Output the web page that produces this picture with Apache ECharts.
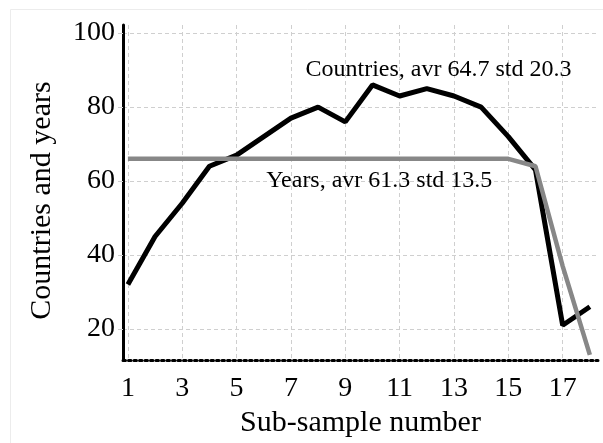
<!DOCTYPE html>
<html>
<head>
<meta charset="utf-8">
<script src="https://cdn.jsdelivr.net/npm/echarts@6/dist/echarts.min.js"></script>
<style>
  html, body { margin: 0; padding: 0; background: #fff; }
  #chart { width: 603px; height: 443px; }
</style>
</head>
<body>
<div id="chart"></div>
<script>
// Sub-sample numbers on the x axis
const subSamples = [1, 2, 3, 4, 5, 6, 7, 8, 9, 10, 11, 12, 13, 14, 15, 16, 17, 18];
// Number of countries in each sub-sample
const countries = [32, 45, 54, 64, 67, 72, 77, 80, 76, 86, 83, 85, 83, 80, 72, 63, 21, 26];
// Number of years in each sub-sample
const years = [66, 66, 66, 66, 66, 66, 66, 66, 66, 66, 66, 66, 66, 66, 66, 64, 37, 13];
// Tick labels
const xTicks = [1, 3, 5, 7, 9, 11, 13, 15, 17];
const yTicks = [20, 40, 60, 80, 100];
// Summary captions
const countriesCaption = 'Countries, avr 64.7 std 20.3';
const yearsCaption = 'Years, avr 61.3 std 13.5';
const countriesCaptionAt = [12.43, 90];
const yearsCaptionAt = [10.25, 60.2];

const serif = '"Liberation Serif", "DejaVu Serif", serif';
const pairs = arr => subSamples.map((x, i) => [x, arr[i]]);

const chart = echarts.init(document.getElementById('chart'), null, { renderer: 'canvas' });

chart.setOption({
  animation: false,
  backgroundColor: '#fff',
  // faint frame around the figure
  graphic: [{
    type: 'rect',
    silent: true,
    shape: { x: 10.5, y: 9.5, width: 620, height: 460 },
    style: { fill: 'none', stroke: '#ececec', lineWidth: 1 }
  }],
  grid: { left: 123, right: 5, top: 25, bottom: 83, containLabel: false },
  xAxis: {
    type: 'value',
    min: 0.82,
    max: 18.3,
    name: 'Sub-sample number',
    nameLocation: 'middle',
    nameGap: 40,
    nameTextStyle: { fontFamily: serif, fontSize: 30, color: '#000' },
    axisLine: { show: true, onZero: false, lineStyle: { color: '#000', width: 3, type: [2.5, 3] } },
    axisTick: { show: false, customValues: xTicks },
    axisLabel: { customValues: xTicks, fontFamily: serif, fontSize: 28, color: '#000', margin: 15 },
    splitLine: { show: true, lineStyle: { color: '#cfcfcf', width: 1, type: [4, 3] } }
  },
  yAxis: {
    type: 'value',
    min: 11.6,
    max: 102.2,
    name: 'Countries and years',
    nameLocation: 'middle',
    nameGap: 66,
    nameTextStyle: { fontFamily: serif, fontSize: 30, color: '#000', padding: [0, 16, 0, 0] },
    axisLine: { show: true, onZero: false, lineStyle: { color: '#000', width: 3 } },
    axisTick: { show: true, customValues: yTicks, length: 5, lineStyle: { color: '#cfcfcf', width: 1 } },
    axisLabel: { customValues: yTicks, fontFamily: serif, fontSize: 28, color: '#000', margin: 8 },
    splitLine: { show: true, lineStyle: { color: '#cfcfcf', width: 1, type: [4, 3] } }
  },
  series: [
    {
      name: 'Years',
      type: 'line',
      data: pairs(years),
      symbol: 'none',
      lineStyle: { color: '#878787', width: 4.5 },
      z: 3,
      markPoint: {
        symbol: 'circle', symbolSize: 0,
        label: { show: true, position: 'inside', formatter: yearsCaption, fontFamily: serif, fontSize: 24, color: '#000' },
        data: [{ coord: yearsCaptionAt }]
      }
    },
    {
      name: 'Countries',
      type: 'line',
      data: pairs(countries),
      symbol: 'none',
      lineStyle: { color: '#000', width: 5 },
      z: 2,
      markPoint: {
        symbol: 'circle', symbolSize: 0,
        label: { show: true, position: 'inside', formatter: countriesCaption, fontFamily: serif, fontSize: 24, color: '#000' },
        data: [{ coord: countriesCaptionAt }]
      }
    }
  ]
});
</script>
</body>
</html>
